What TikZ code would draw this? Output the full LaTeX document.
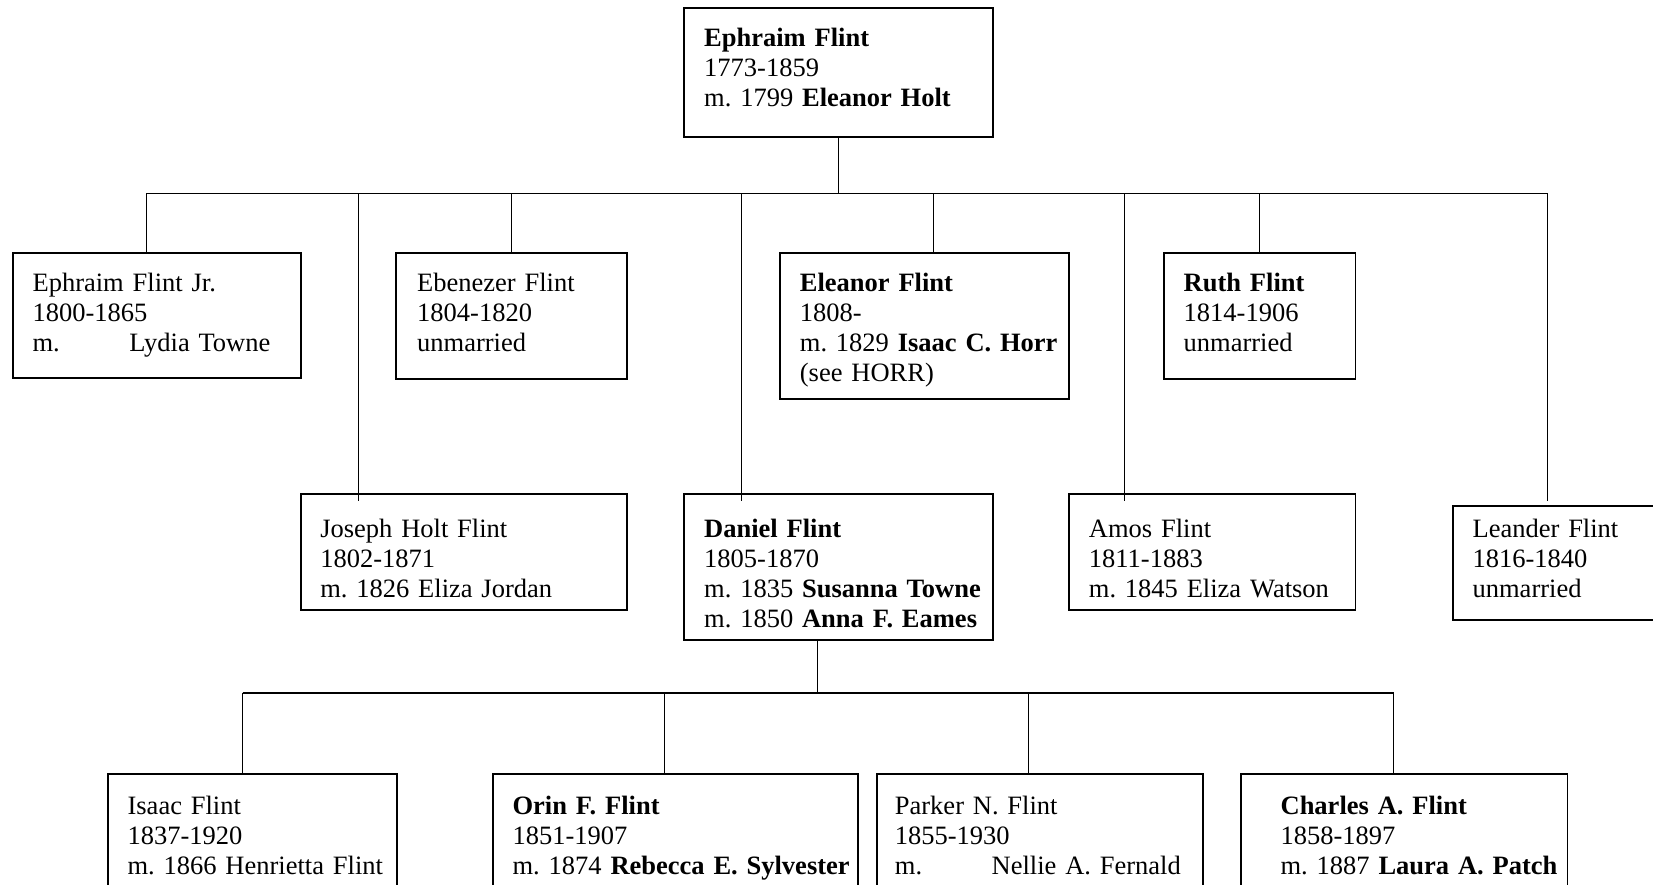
\documentclass[tikz,border=0pt]{standalone}
\usepackage{fontspec}
\setmainfont{Liberation Serif}
\hyphenpenalty=10000
\exhyphenpenalty=10000
\newcommand\mtab{\makebox[48.4pt][l]{m.}}
\tikzset{
  fam/.style n args={4}{draw, line width=0.9pt, anchor=north west, align=left,
    font=\fontsize{13.25}{15}\selectfont, inner ysep=0pt,
    inner xsep=#1, text width=#2, text height=#3, text depth=#4},
  link/.style={line width=0.5pt},
  bar/.style={line width=0.8pt},
}

\begin{document}
\begin{tikzpicture}[x=0.5pt,y=-0.5pt]
                    \useasboundingbox (0,0) rectangle (1653,884);
                    \clip (0,0) rectangle (1653,884);
                    \fill[white] (0,0) rectangle (1653,884);
                    % parents
                    \node[fam={10pt}{134.2pt}{19.35pt}{45.15pt}] (ephraim) at (683.3,7.3)
                      {\textbf{Ephraim Flint}\\1773-1859\\m.~1799 \textbf{Eleanor~Holt}};
                    % children, upper row
                    \node[fam={10pt}{124.15pt}{19.5pt}{43.3pt}] (ejr) at (11.7,251.7)
                      {Ephraim Flint Jr.\\1800-1865\\\mtab Lydia~Towne};
                    \node[fam={10.5pt}{94.45pt}{19.5pt}{43.65pt}] (ebenezer) at (395.3,251.7)
                      {Ebenezer Flint\\1804-1820\\unmarried};
                    \node[fam={10pt}{124.5pt}{19.5pt}{53.5pt}] (eleanor) at (779,251.7)
                      {\textbf{Eleanor Flint}\\1808-\\m.~1829~\textbf{Isaac~C.~Horr}\\(see HORR)};
                    \node[fam={10pt}{75.9pt}{19.5pt}{43.65pt}] (ruth) at (1162.8,251.7)
                      {\textbf{Ruth Flint}\\1814-1906\\unmarried};
                    % children, lower row
                    \node[fam={9.5pt}{143.9pt}{21.7pt}{36.15pt}] (joseph) at (300.4,493.3)
                      {Joseph Holt Flint\\1802-1871\\m.~1826 Eliza~Jordan};
                    \node[fam={10pt}{134.2pt}{21.7pt}{51.3pt}] (daniel) at (683.3,493.3)
                      {\textbf{Daniel Flint}\\1805-1870\\m.~1835~\textbf{Susanna~Towne}\\m.~1850~\textbf{Anna~F.~Eames}};
                    \node[fam={10pt}{123.3pt}{21.7pt}{36.15pt}] (amos) at (1068,493.3)
                      {Amos Flint\\1811-1883\\m.~1845 Eliza~Watson};
                    \node[fam={10pt}{105pt}{15.85pt}{41.3pt}] (leander) at (1451.7,505)
                      {Leander Flint\\1816-1840\\unmarried};
                    % grandchildren
                    \node[fam={9.7pt}{124.95pt}{20pt}{68pt}] (isaac) at (107.3,773.3)
                      {Isaac Flint\\1837-1920\\m.~1866~Henrietta~Flint};
                    \node[fam={10pt}{162.8pt}{20pt}{68pt}] (orin) at (491.7,773.3)
                      {\textbf{Orin F. Flint}\\1851-1907\\m.~1874~\textbf{Rebecca~E.~Sylvester}};
                    \node[fam={9pt}{144.9pt}{20pt}{68pt}] (parker) at (876,773.3)
                      {Parker N. Flint\\1855-1930\\\mtab Nellie~A.~Fernald};
                    \node[fam={20pt}{123.4pt}{20pt}{68pt}] (charles) at (1239.7,773.3)
                      {\textbf{Charles A. Flint}\\1858-1897\\m.~1887~\textbf{Laura~A.~Patch}};
                    % upper bar
                    \coordinate (tl) at (146,193.3);
                    \coordinate (tr) at (1547.6,193.3);
                    \coordinate (row2) at (0,500.7);
                    \draw[bar] (tl) -- (tr);
                    \draw[link] (ephraim.south) -- (ephraim.south |- tl);
                    \foreach \x/\n in {146/ejr,511.3/ebenezer,933/eleanor,1259.7/ruth}{
                      \coordinate (up-\n) at (\x,193.3);
                      \draw[link] (up-\n) -- (up-\n |- \n.north);
                    }
                    \foreach \x/\n in {358.4/joseph,741.1/daniel,1124.8/amos,1547.6/leander}{
                      \coordinate (up-\n) at (\x,193.3);
                      \draw[link] (up-\n) -- (up-\n |- row2);
                    }
                    % lower bar
                    \coordinate (bl) at (242.5,692.7);
                    \coordinate (br) at (1393.6,692.7);
                    \coordinate (dn) at (817.7,692.7);
                    \draw[bar] (bl) -- (br);
                    \draw[link] (dn) -- (dn |- daniel.south);
                    \foreach \x/\n in {242.5/isaac,664.3/orin,1028.9/parker,1393.6/charles}{
                      \coordinate (dn-\n) at (\x,692.7);
                      \draw[link] (dn-\n) -- (dn-\n |- \n.north);
                    }
\end{tikzpicture}
\end{document}
